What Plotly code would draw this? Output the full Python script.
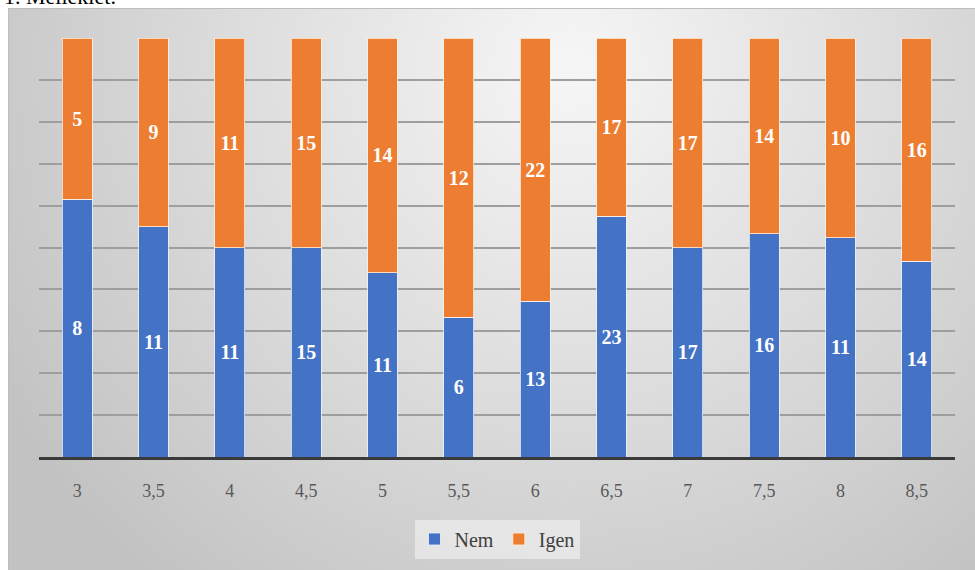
import base64
import plotly.graph_objects as go

# Grade categories and response counts
categories = ["3", "3,5", "4", "4,5", "5", "5,5", "6", "6,5", "7", "7,5", "8", "8,5"]
nem = [8, 11, 11, 15, 11, 6, 13, 23, 17, 16, 11, 14]
igen = [5, 9, 11, 15, 14, 12, 22, 17, 17, 14, 10, 16]

W, H = 975, 570
ML, MR, MT, MB = 39, 20, 38, 113
PW, PH = W - ML - MR, H - MT - MB

SERIF = "Liberation Serif"

# soft radial gray background for the chart frame
svg = """<svg xmlns='http://www.w3.org/2000/svg' width='967' height='562' viewBox='0 0 967 562' preserveAspectRatio='none'>
<defs><radialGradient id='g' gradientUnits='userSpaceOnUse' cx='560' cy='60' r='660'>
<stop offset='0' stop-color='#f6f6f6'/><stop offset='0.5' stop-color='#dddddd'/><stop offset='1' stop-color='#c2c2c2'/>
</radialGradient></defs>
<rect x='0' y='0' width='967' height='562' fill='url(#g)'/>
<rect x='0.5' y='0.5' width='970' height='565' fill='none' stroke='#bdbdbd' stroke-width='1'/>
</svg>"""
bg_src = "data:image/svg+xml;base64," + base64.b64encode(svg.encode()).decode()


def px_x(p):
    return (p - ML) / PW


def px_y(p):
    return (H - MB - p) / PH


label_font = dict(family=SERIF, size=20, color="white")

fig = go.Figure()
fig.add_trace(go.Bar(
    x=categories, y=nem, name="Nem",
    marker=dict(color="#4472C4", line=dict(color="rgba(235,242,255,0.8)", width=1)),
    text=[f"<b>{v}</b>" for v in nem], textposition="inside",
    insidetextanchor="middle", textangle=0, textfont=label_font,
    constraintext="none",
))
fig.add_trace(go.Bar(
    x=categories, y=igen, name="Igen",
    marker=dict(color="#ED7D31", line=dict(color="rgba(255,240,225,0.8)", width=1)),
    text=[f"<b>{v}</b>" for v in igen], textposition="inside",
    insidetextanchor="middle", textangle=0, textfont=label_font,
    constraintext="none",
))

fig.update_layout(
    width=W, height=H,
    margin=dict(l=ML, r=MR, t=MT, b=MB, pad=0),
    barmode="stack", barnorm="percent", bargap=0.61,
    paper_bgcolor="white", plot_bgcolor="rgba(0,0,0,0)",
    font=dict(family=SERIF),
    showlegend=True,
    legend=dict(
        orientation="h", x=0.5, xanchor="center",
        y=px_y(539), yanchor="middle", traceorder="normal",
        bgcolor="rgba(236,236,236,0.75)",
        font=dict(family=SERIF, size=20, color="#404040"),
        itemwidth=30, tracegroupgap=0,
    ),
    xaxis=dict(
        showline=True, linecolor="#3a3a3a", linewidth=3,
        ticks="outside", ticklen=15, tickcolor="rgba(0,0,0,0)",
        tickfont=dict(family=SERIF, size=18, color="#595959"),
        showgrid=False,
    ),
    yaxis=dict(
        range=[0, 100], dtick=10, showticklabels=False,
        showgrid=True, gridcolor="#9e9e9e", gridwidth=1.6,
        zeroline=False, showline=False,
    ),
    images=[dict(
        source=bg_src, xref="paper", yref="paper",
        x=px_x(8), y=px_y(8), sizex=(W - 8) / PW, sizey=(H - 8) / PH,
        xanchor="left", yanchor="top", sizing="stretch", layer="below",
    )],
    annotations=[dict(
        text="1. Melléklet:", xref="paper", yref="paper",
        x=px_x(2), y=px_y(11), xanchor="left", yanchor="bottom",
        showarrow=False,
        font=dict(family=SERIF, size=22, color="black"),
    )],
)

fig.write_html("out.html")
